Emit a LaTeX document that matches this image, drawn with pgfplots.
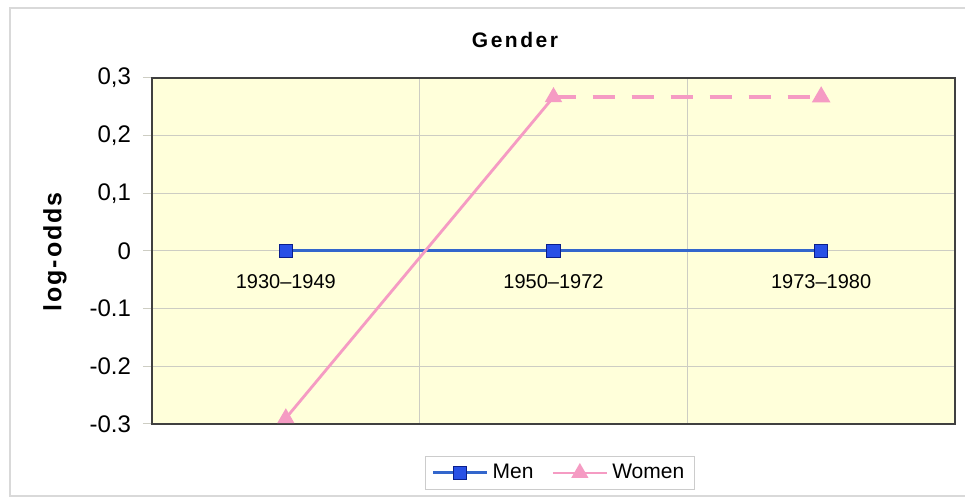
\documentclass[border=0pt]{standalone}
\usepackage{pgfplots}
\pgfplotsset{compat=1.18}
\usepackage{fontspec}
\setmainfont{Liberation Sans}
\definecolor{menblue}{RGB}{51,102,204}
\definecolor{menfill}{RGB}{40,80,230}
\definecolor{menedge}{RGB}{10,30,140}
\definecolor{womenpink}{RGB}{245,155,195}
\definecolor{bgyellow}{RGB}{255,255,218}
\definecolor{gridgray}{RGB}{205,205,195}
\begin{document}
\begin{tikzpicture}
\useasboundingbox (-76pt,-36.5pt) rectangle (406.5pt,212pt);
\draw[gray!30, line width=0.6pt] (410pt,208pt) -- (-71pt,208pt) -- (-71pt,-36pt) -- (410pt,-36pt);
\begin{axis}[
  at={(0,0)}, anchor=south west,
  scale only axis, width=401.5pt, height=173pt,
  xmin=0, xmax=3, ymin=-0.3, ymax=0.3,
  clip=false,
  axis background/.style={fill=bgyellow},
  axis line style={line width=1pt, black!75},
  xtick={1,2}, xticklabels={}, major x tick style={draw=none},
  ytick={-0.3,-0.2,-0.1,0,0.1,0.2,0.3},
  yticklabels={-0.3,-0.2,-0.1,0,{0,1},{0,2},{0,3}},
  tick pos=left,
  xmajorgrids, ymajorgrids,
  grid style={gridgray, line width=0.5pt},
  tick align=outside, major tick length=4.5pt,
  y tick style={gridgray, line width=0.5pt},
  yticklabel style={font=\fontsize{12}{14}\selectfont, xshift=-2.5pt},
  legend style={at={(0.508,-0.1416)}, anchor=center, draw=gray!40, fill=white,
    font=\fontsize{10.5}{12}\selectfont, legend columns=2,
    /tikz/every even column/.append style={column sep=7pt}},
  legend image code/.code={\draw[mark repeat=2,mark phase=2] plot coordinates {(0pt,0pt) (13.5pt,0pt) (27pt,0pt)};},
]
\addplot[menblue, line width=1.5pt, mark=square*, mark size=3.3pt,
  mark options={fill=menfill, draw=menedge, line width=0.5pt}]
  coordinates {(0.5,0) (1.5,0) (2.5,0)};
\addlegendentry{Men}
\addplot[womenpink, line width=1.4pt, mark=triangle*, mark size=3.6pt]
  coordinates {(0.5,-0.29) (1.5,0.267)};
\addlegendentry{Women}
\addplot[womenpink, line width=1.8pt, dash pattern=on 11pt off 8.5pt, mark=triangle*, mark size=3.6pt,
  mark indices={2}, mark options={solid}, forget plot]
  coordinates {(1.5,0.267) (2.5,0.267)};
\node[font=\fontsize{10}{12}\selectfont] at (axis cs:0.5,0) [yshift=-15.5pt] {1930–1949};
\node[font=\fontsize{10}{12}\selectfont] at (axis cs:1.5,0) [yshift=-15.5pt] {1950–1972};
\node[font=\fontsize{10}{12}\selectfont] at (axis cs:2.5,0) [yshift=-15.5pt] {1973–1980};
\end{axis}
\node[font=\bfseries\fontsize{10.5}{12}\selectfont\addfontfeature{LetterSpace=12}] at (181.5pt,192pt) {Gender};
\node[font=\bfseries\fontsize{12.5}{14}\selectfont\addfontfeature{LetterSpace=8}, rotate=90] at (-48.5pt,86pt) {log-odds};
\end{tikzpicture}
\end{document}
